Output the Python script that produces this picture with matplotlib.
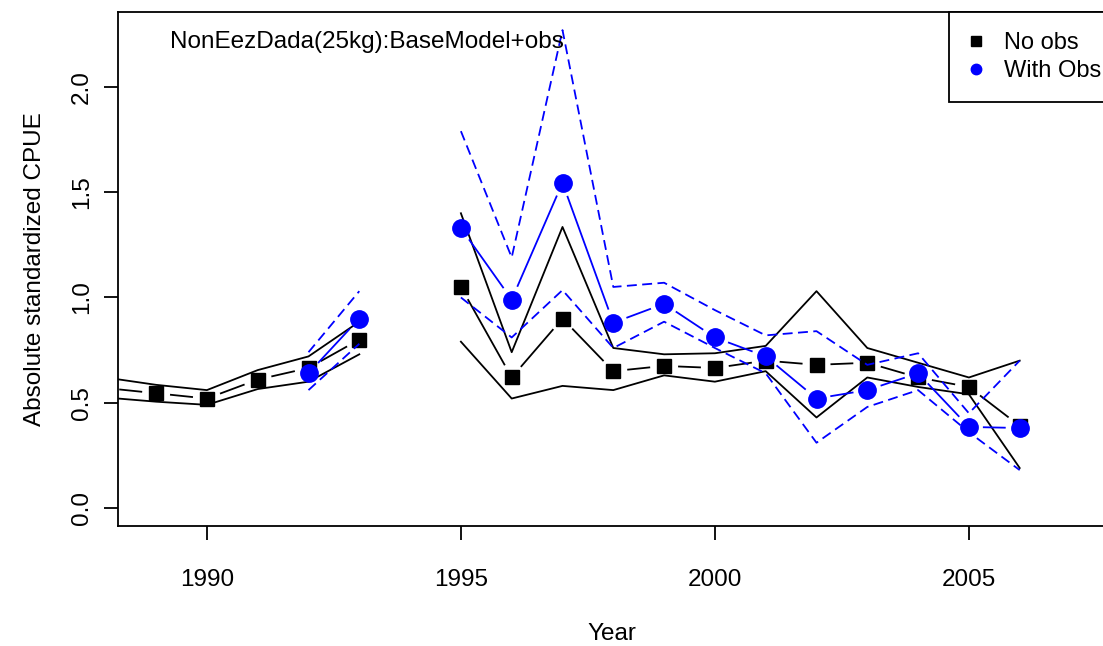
import matplotlib
matplotlib.use("Agg")
import matplotlib.pyplot as plt
import numpy as np

# --- Data (NaN = no estimate that year) ---
years = np.arange(1988, 2007)

no_obs_mean = np.array([0.57, 0.545, 0.52, 0.61, 0.665, 0.80, np.nan, 1.05, 0.62, 0.90,
                        0.65, 0.675, 0.665, 0.70, 0.68, 0.69, 0.62, 0.575, 0.39])
no_obs_upper = np.array([0.62, 0.585, 0.56, 0.655, 0.72, 0.885, np.nan, 1.40, 0.74, 1.335,
                         0.76, 0.73, 0.735, 0.77, 1.03, 0.76, 0.69, 0.62, 0.70])
no_obs_lower = np.array([0.525, 0.505, 0.49, 0.565, 0.60, 0.73, np.nan, 0.79, 0.52, 0.58,
                         0.56, 0.63, 0.60, 0.65, 0.43, 0.62, 0.575, 0.54, 0.19])

with_obs_mean = np.array([np.nan, np.nan, np.nan, np.nan, 0.64, 0.90, np.nan, 1.33, 0.99, 1.545,
                          0.88, 0.97, 0.81, 0.72, 0.52, 0.56, 0.64, 0.385, 0.38])
with_obs_upper = np.array([np.nan, np.nan, np.nan, np.nan, 0.74, 1.03, np.nan, 1.79, 1.19, 2.27,
                           1.05, 1.07, 0.94, 0.82, 0.84, 0.68, 0.735, 0.45, 0.70])
with_obs_lower = np.array([np.nan, np.nan, np.nan, np.nan, 0.56, 0.78, np.nan, 1.00, 0.81, 1.035,
                           0.76, 0.885, 0.76, 0.64, 0.31, 0.48, 0.56, 0.36, 0.18])

title_text = "NonEezDada(25kg):BaseModel+obs"
legend_labels = ["No obs", "With Obs"]

plt.rcParams['font.family'] = ['Liberation Sans', 'DejaVu Sans']
FS = 17.5
LW = 1.3

W, H = 1103, 646
fig = plt.figure(figsize=(W / 100, H / 100), dpi=100)
# plot region in pixels: left 118, right ~1105 (cut off), top 12, bottom 526
ax = fig.add_axes([118 / W, (H - 526) / H, (1105 - 118) / W, (526 - 12) / H])
ax.set_xlim(1988.25, 1988.25 + (1105 - 118) / 50.8)
ax.set_ylim(-0.0855, 2.356)


def gapped_line(x, y, color, gap_px=14):
    # R type="b": segments between points, cut short around each point
    pts = ax.transData.transform(np.column_stack([x, y]))
    inv = ax.transData.inverted()
    for p0, p1 in zip(pts[:-1], pts[1:]):
        if not (np.all(np.isfinite(p0)) and np.all(np.isfinite(p1))):
            continue
        d = p1 - p0
        n = np.hypot(*d)
        if n <= 2 * gap_px:
            continue
        u = d / n
        seg = inv.transform(np.array([p0 + u * gap_px, p1 - u * gap_px]))
        ax.plot(seg[:, 0], seg[:, 1], color=color, lw=LW, solid_capstyle='butt')


# No obs (black)
ax.plot(years, no_obs_upper, color='black', lw=LW)
ax.plot(years, no_obs_lower, color='black', lw=LW)
gapped_line(years, no_obs_mean, 'black')
ax.plot(years, no_obs_mean, ls='none', marker='s', ms=10, color='black')

# With obs (blue)
ax.plot(years, with_obs_upper, color='blue', lw=LW, ls=(0, (5.5, 3)))
ax.plot(years, with_obs_lower, color='blue', lw=LW, ls=(0, (5.5, 3)))
gapped_line(years, with_obs_mean, 'blue')
ax.plot(years, with_obs_mean, ls='none', marker='o', ms=12.5, color='blue')

# axes styling in R base-graphics look
for s in ax.spines.values():
    s.set_linewidth(LW)
ax.set_xticks([1990, 1995, 2000, 2005])
ax.set_yticks([0.0, 0.5, 1.0, 1.5, 2.0])
ax.set_yticklabels(['0.0', '0.5', '1.0', '1.5', '2.0'], rotation=90, va='center')
ax.tick_params(direction='out', length=10, width=LW, labelsize=FS)
ax.tick_params(axis='x', pad=21)
ax.tick_params(axis='y', pad=8)

ax.set_xlabel('Year', fontsize=FS, labelpad=23)
ax.set_ylabel('Absolute standardized CPUE', fontsize=FS, labelpad=18)

ax.text(1989.27, 2.214, title_text, fontsize=FS, ha='left', va='center')

# legend box at top right
h1, = ax.plot([], [], ls='none', marker='s', ms=7, color='black')
h2, = ax.plot([], [], ls='none', marker='o', ms=7.5, color='blue')
leg = ax.legend([h1, h2], legend_labels, loc='upper left',
                bbox_to_anchor=(949 / W, 1 - 12 / H), bbox_transform=fig.transFigure,
                fontsize=17, frameon=True, fancybox=False, edgecolor='black',
                borderpad=0.85, handlelength=0.6, handletextpad=0.9,
                labelspacing=0.25, borderaxespad=0, framealpha=1)
leg.get_frame().set_linewidth(LW)

fig.savefig('out.png', dpi=100)
